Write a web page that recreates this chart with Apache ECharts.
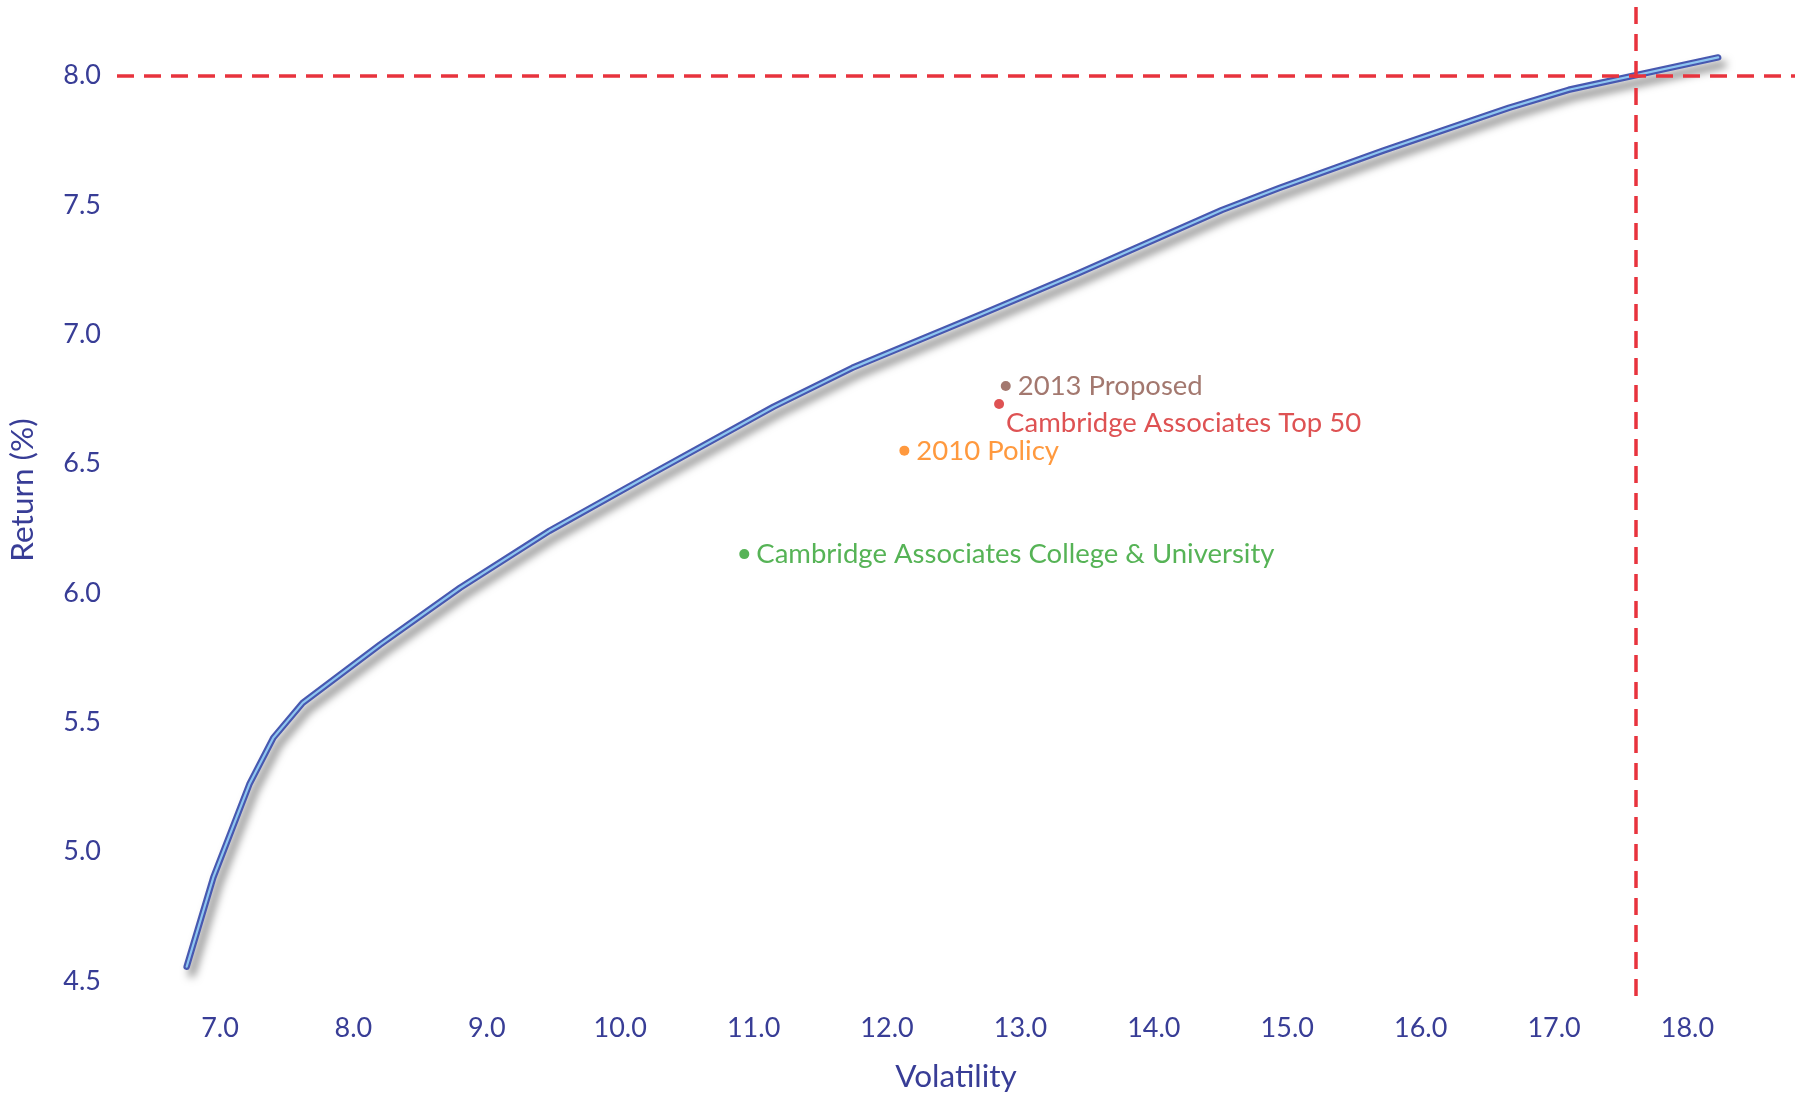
<!DOCTYPE html>
<html>
<head>
<meta charset="utf-8">
<title>Efficient Frontier</title>
<script src="https://cdn.jsdelivr.net/npm/echarts@6/dist/echarts.min.js"></script>
<style>
  html, body { margin: 0; padding: 0; background: #ffffff; }
  #chart { width: 1795px; height: 1099px; }
</style>
</head>
<body>
<div id="chart"></div>
<script>
// Efficient frontier: volatility (%) vs expected return (%)
const frontierVol = [6.75, 6.95, 7.22, 7.40, 7.62, 8.20, 8.80, 9.47, 10.20, 11.15, 11.74, 12.72, 13.43, 14.51, 14.94, 15.72, 16.66, 17.11, 18.23];
const frontierRet = [4.555, 4.90, 5.26, 5.44, 5.575, 5.80, 6.02, 6.24, 6.45, 6.72, 6.87, 7.08, 7.235, 7.48, 7.565, 7.71, 7.875, 7.945, 8.07];

// Individual portfolios
const portfolioNames = ['2013 Proposed', 'Cambridge Associates Top 50', '2010 Policy', 'Cambridge Associates College & University'];
const portfolioVol = [12.89, 12.84, 12.13, 10.93];
const portfolioRet = [6.80, 6.73, 6.55, 6.15];
const portfolioColors = ['#8c564b', '#d62728', '#ff7f0e', '#2ca02c'];

// Target reference lines
const targetReturn = 8.0;
const targetVol = 17.61;

// Axis extents and tick labels
const xMin = 6.228, xMax = 18.806;
const yMin = 4.407, yMax = 8.265;
const xTicks = [7, 8, 9, 10, 11, 12, 13, 14, 15, 16, 17, 18];
const yTicks = [4.5, 5.0, 5.5, 6.0, 6.5, 7.0, 7.5, 8.0];

const FONT = 'Lato, "Open Sans", sans-serif';
const AXIS_COLOR = '#383d96';

const frontier = frontierVol.map((v, i) => [v, frontierRet[i]]);

const pointSeries = portfolioNames.map((name, i) => {
  const isTop50 = i === 1;
  return {
    type: 'scatter',
    name: name,
    z: 5,
    symbolSize: 10,
    itemStyle: { color: portfolioColors[i] },
    data: [[portfolioVol[i], portfolioRet[i]]],
    label: {
      show: true,
      formatter: name,
      color: portfolioColors[i],
      fontFamily: FONT,
      fontSize: 27.5,
      position: isTop50 ? [12, 24.5] : 'right',
      distance: 7,
      align: 'left',
      verticalAlign: 'middle'
    }
  };
});

const chart = echarts.init(document.getElementById('chart'), null, { renderer: 'canvas' });
chart.setOption({
  animation: false,
  backgroundColor: '#ffffff',
  grid: { left: 117, right: 0, top: 7, bottom: 94, containLabel: false, outerBoundsMode: 'none' },
  xAxis: {
    type: 'value',
    min: xMin,
    max: xMax,
    name: 'Volatility',
    nameLocation: 'middle',
    nameGap: 56,
    nameTextStyle: { color: AXIS_COLOR, fontFamily: FONT, fontSize: 31.5 },
    axisLine: { show: false },
    axisTick: { show: false },
    splitLine: { show: false },
    axisLabel: {
      customValues: xTicks,
      formatter: v => v.toFixed(1),
      color: AXIS_COLOR,
      fontFamily: FONT,
      fontSize: 27,
      margin: 10
    }
  },
  yAxis: {
    type: 'value',
    min: yMin,
    max: yMax,
    name: 'Return (%)',
    nameLocation: 'middle',
    nameRotate: 90,
    nameGap: 78,
    nameTextStyle: { color: AXIS_COLOR, fontFamily: FONT, fontSize: 31.5, padding: [0, 0, 0, 32] },
    axisLine: { show: false },
    axisTick: { show: false },
    splitLine: { show: false },
    axisLabel: {
      customValues: yTicks,
      formatter: v => v.toFixed(1),
      color: AXIS_COLOR,
      fontFamily: FONT,
      fontSize: 27,
      margin: 16
    }
  },
  series: [
    {
      // dashed target lines (vertical one drawn top-down)
      type: 'line',
      data: [],
      z: 1,
      markLine: {
        silent: true,
        symbol: 'none',
        label: { show: false },
        lineStyle: { color: '#e8333d', width: 3.5, type: [17, 10] },
        data: [
          [{ coord: [xMin, targetReturn] }, { coord: [xMax, targetReturn] }],
          [{ coord: [targetVol, yMax] }, { coord: [targetVol, yMin] }]
        ]
      }
    },
    {
      // frontier outline with drop shadow
      type: 'line',
      z: 3,
      data: frontier,
      symbol: 'none',
      lineStyle: {
        color: '#4758b0',
        width: 6.5,
        cap: 'round',
        join: 'round',
        shadowColor: 'rgba(0,0,0,0.5)',
        shadowBlur: 9,
        shadowOffsetX: 5,
        shadowOffsetY: 7
      }
    },
    {
      // frontier highlight stripe
      type: 'line',
      z: 4,
      data: frontier,
      symbol: 'none',
      lineStyle: { color: '#8ec6f0', width: 2.2, cap: 'round', join: 'round' }
    },
    ...pointSeries
  ]
});
</script>
</body>
</html>
